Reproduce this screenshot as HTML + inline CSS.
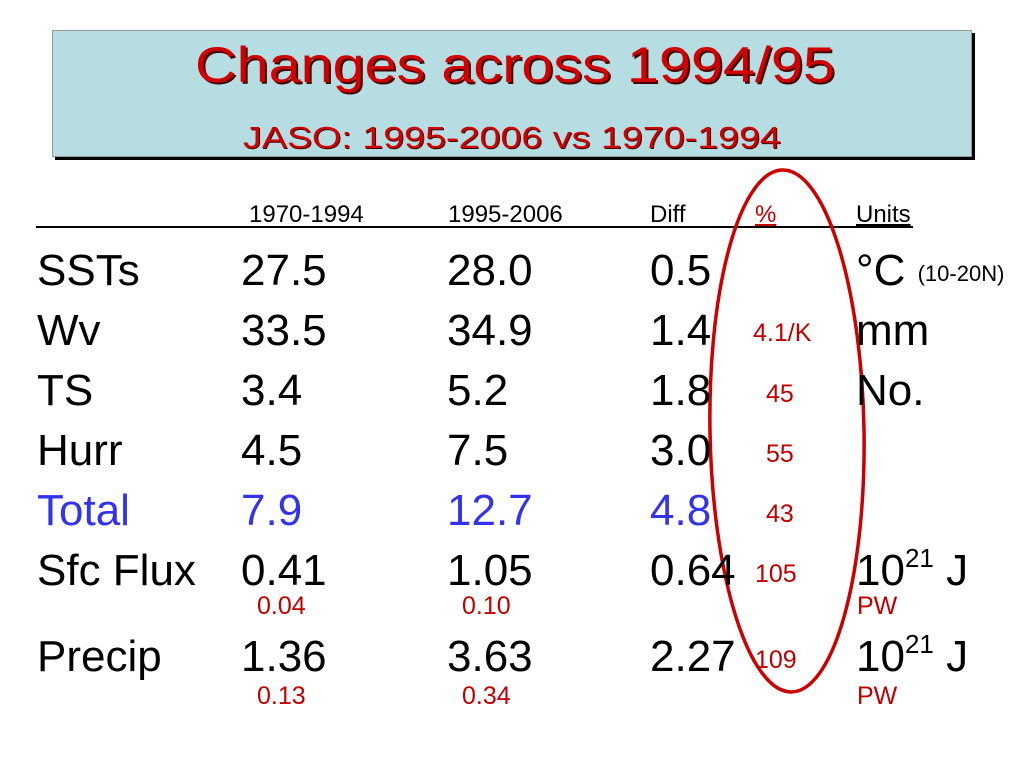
<!DOCTYPE html>
<html><head><meta charset="utf-8"><style>
body{margin:0;width:1024px;height:768px;background:#fff;position:relative;overflow:hidden;font-family:"Liberation Sans",sans-serif}
.t{position:absolute;line-height:1;white-space:nowrap}
.b{font-size:44px;color:#000}
.h{font-size:24px}
.r{color:#c00000}
.s{font-size:25px;color:#c00000}
.blue{color:#3333ee}
sup{font-size:26px;vertical-align:18px;line-height:0}
</style></head><body>
<div style="position:absolute;left:55px;top:33px;width:920px;height:127px;background:#000"></div>
<div style="position:absolute;left:52px;top:30px;width:918px;height:125px;background:#b6dde2;border:1px solid #999"></div>
<svg width="1024" height="768" style="position:absolute;left:0;top:0">
<text x="515" y="82" text-anchor="middle" font-family="Liberation Sans, sans-serif" font-size="50" fill="#d00000" textLength="640" lengthAdjust="spacingAndGlyphs" style="filter:drop-shadow(2px 2px 0 #400)">Changes across 1994/95</text>
<text x="512" y="148" text-anchor="middle" font-family="Liberation Sans, sans-serif" font-size="31" fill="#d00000" textLength="538" lengthAdjust="spacingAndGlyphs" style="filter:drop-shadow(1px 1px 0 #400)">JASO: 1995-2006 vs 1970-1994</text>
<line x1="36" y1="227" x2="913" y2="227" stroke="#000" stroke-width="2"/>
<ellipse cx="787" cy="431" rx="77" ry="261" transform="rotate(-1 787 431)" fill="none" stroke="#cc0000" stroke-width="3.5"/>
</svg>
<div class="t h" style="left:249px;top:203px">1970-1994</div>
<div class="t h" style="left:448px;top:203px">1995-2006</div>
<div class="t h" style="left:650px;top:203px">Diff</div>
<div class="t h r" style="left:755px;top:203px;text-decoration:underline">%</div>
<div class="t h" style="left:856px;top:203px;text-decoration:underline">Units</div>

<div class="t b" style="left:37px;top:249px">SSTs</div>
<div class="t b" style="left:241px;top:249px">27.5</div>
<div class="t b" style="left:447px;top:249px">28.0</div>
<div class="t b" style="left:650px;top:249px">0.5</div>
<div class="t b" style="left:856px;top:249px">°C <span style="font-size:22px;vertical-align:4px">(10-20N)</span></div>

<div class="t b" style="left:37px;top:309px">Wv</div>
<div class="t b" style="left:241px;top:309px">33.5</div>
<div class="t b" style="left:447px;top:309px">34.9</div>
<div class="t b" style="left:650px;top:309px">1.4</div>
<div class="t s" style="left:753px;top:321px">4.1/K</div>
<div class="t b" style="left:856px;top:309px">mm</div>

<div class="t b" style="left:37px;top:369px">TS</div>
<div class="t b" style="left:241px;top:369px">3.4</div>
<div class="t b" style="left:447px;top:369px">5.2</div>
<div class="t b" style="left:650px;top:369px">1.8</div>
<div class="t s" style="left:766px;top:382px">45</div>
<div class="t b" style="left:856px;top:369px">No.</div>

<div class="t b" style="left:37px;top:429px">Hurr</div>
<div class="t b" style="left:241px;top:429px">4.5</div>
<div class="t b" style="left:447px;top:429px">7.5</div>
<div class="t b" style="left:650px;top:429px">3.0</div>
<div class="t s" style="left:766px;top:442px">55</div>

<div class="t b blue" style="left:37px;top:489px">Total</div>
<div class="t b blue" style="left:241px;top:489px">7.9</div>
<div class="t b blue" style="left:447px;top:489px">12.7</div>
<div class="t b blue" style="left:650px;top:489px">4.8</div>
<div class="t s" style="left:766px;top:502px">43</div>

<div class="t b" style="left:37px;top:549px">Sfc Flux</div>
<div class="t b" style="left:241px;top:549px">0.41</div>
<div class="t b" style="left:447px;top:549px">1.05</div>
<div class="t b" style="left:650px;top:549px">0.64</div>
<div class="t s" style="left:755px;top:562px">105</div>
<div class="t b" style="left:856px;top:549px">10<sup>21</sup> J</div>
<div class="t s" style="left:257px;top:594px">0.04</div>
<div class="t s" style="left:462px;top:594px">0.10</div>
<div class="t s" style="left:857px;top:594px">PW</div>

<div class="t b" style="left:37px;top:635px">Precip</div>
<div class="t b" style="left:241px;top:635px">1.36</div>
<div class="t b" style="left:447px;top:635px">3.63</div>
<div class="t b" style="left:650px;top:635px">2.27</div>
<div class="t s" style="left:755px;top:648px">109</div>
<div class="t b" style="left:856px;top:635px">10<sup>21</sup> J</div>
<div class="t s" style="left:257px;top:684px">0.13</div>
<div class="t s" style="left:462px;top:684px">0.34</div>
<div class="t s" style="left:857px;top:684px">PW</div>
</body></html>
